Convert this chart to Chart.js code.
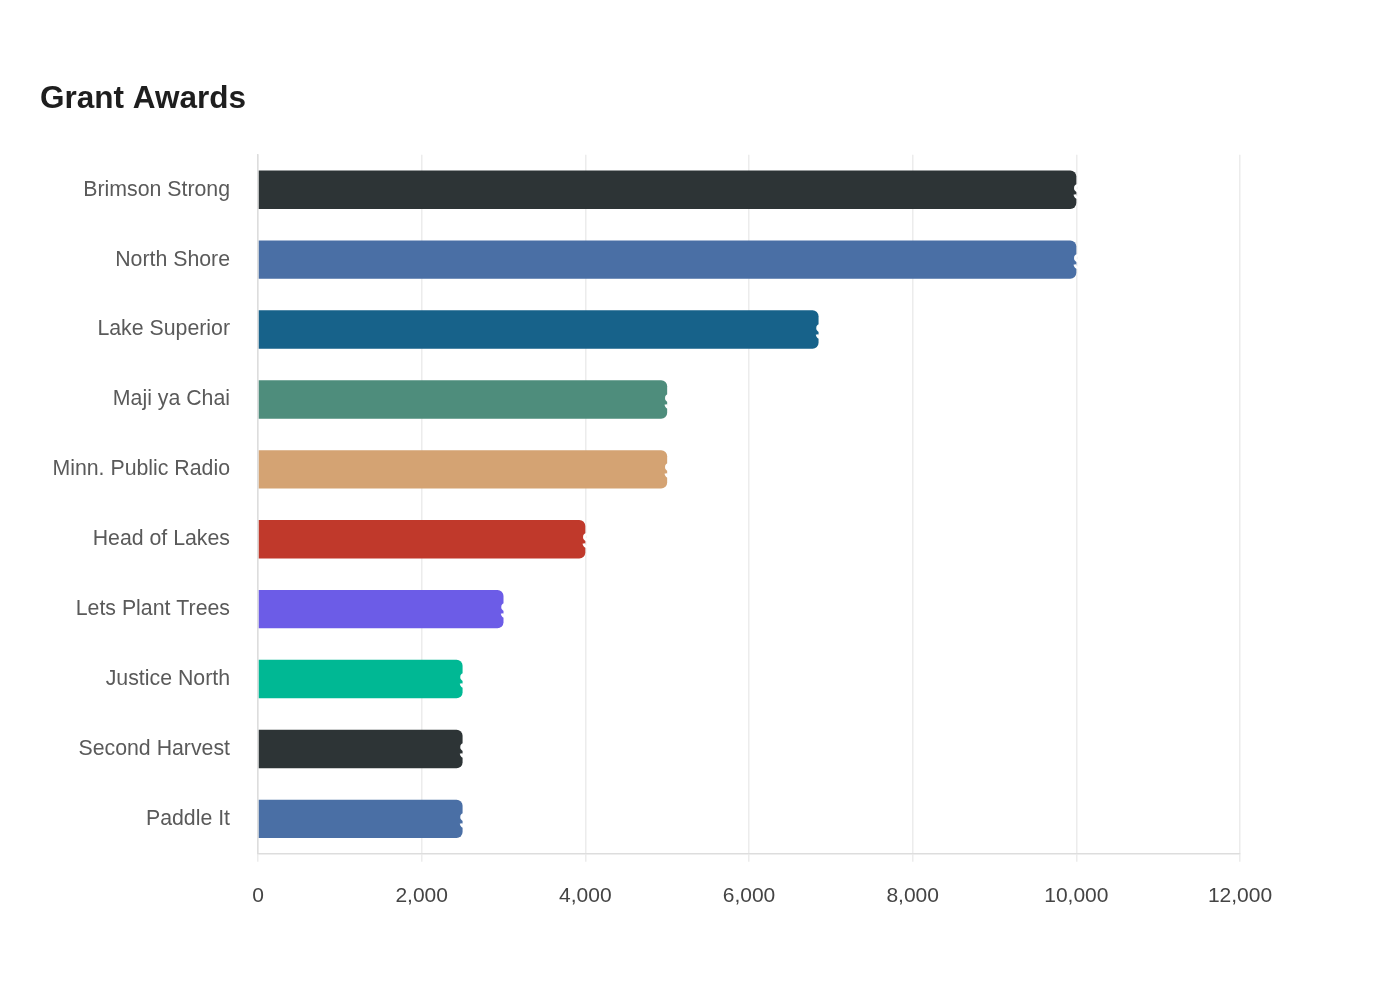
<!DOCTYPE html>
<html>
<head>
<meta charset="utf-8">
<script src="https://cdn.jsdelivr.net/npm/chart.js@4.4.1/dist/chart.umd.min.js"></script>
<style>
  html, body { margin: 0; padding: 0; background: #fff; }
  #wrap { width: 1400px; height: 1000px; position: relative; }
</style>
</head>
<body>
<div id="wrap"><canvas id="grantChart"></canvas></div>
<script>
const grantees = ['Brimson Strong', 'North Shore', 'Lake Superior', 'Maji ya Chai', 'Minn. Public Radio',
                  'Head of Lakes', 'Lets Plant Trees', 'Justice North', 'Second Harvest', 'Paddle It'];
const awards = [10000, 10000, 6850, 5000, 5000, 4000, 3000, 2500, 2500, 2500];
const barColors = ['#2d3436', '#4a6fa5', '#17628a', '#4e8d7c', '#d4a373',
                   '#c0392b', '#6c5ce7', '#00b894', '#2d3436', '#4a6fa5'];
const xTicks = [0, 2000, 4000, 6000, 8000, 10000, 12000];

// white amount labels sitting at the bar ends (mostly invisible on the white background)
const endLabels = {
    id: 'endLabels',
    afterDatasetsDraw(chart) {
        const ctx = chart.ctx;
        const meta = chart.getDatasetMeta(0);
        ctx.save();
        ctx.fillStyle = '#ffffff';
        ctx.font = 'bold 22px "Liberation Sans", Arial, sans-serif';
        ctx.textAlign = 'left';
        ctx.textBaseline = 'middle';
        meta.data.forEach((bar, i) => {
            ctx.fillText('$' + awards[i].toLocaleString('en-US'), bar.x - 3, bar.y + 3);
        });
        ctx.restore();
    }
};

const ctx = document.getElementById('grantChart').getContext('2d');

new Chart(ctx, {
    type: 'bar',
    data: {
        labels: grantees,
        datasets: [{
            label: 'Award',
            data: awards,
            backgroundColor: barColors,
            borderRadius: 6,
            borderSkipped: 'start',
            barPercentage: 0.55,
            categoryPercentage: 1
        }]
    },
    options: {
        indexAxis: 'y',
        responsive: true,
        maintainAspectRatio: false,
        animation: false,
        layout: {
            padding: { top: 80, left: 40, right: 160, bottom: 69 }
        },
        plugins: {
            legend: { display: false },
            tooltip: { enabled: false },
            title: {
                display: true,
                text: 'Grant Awards',
                align: 'start',
                color: '#1e1e1e',
                font: { family: '"Liberation Sans", Arial, sans-serif', size: 31.5, weight: 'bold' },
                padding: { top: 0, bottom: 37 }
            }
        },
        scales: {
            x: {
                min: 0,
                max: 12000,
                afterBuildTicks: (axis) => {
                    axis.ticks = xTicks.map(v => ({ value: v }));
                },
                ticks: {
                    color: '#444',
                    padding: 22,
                    font: { family: '"Liberation Sans", Arial, sans-serif', size: 21 },
                    callback: (v) => Number(v).toLocaleString('en-US')
                },
                grid: { color: '#ececec', lineWidth: 1.5, tickLength: 8 },
                border: { color: '#dddddd', width: 1.5 }
            },
            y: {
                afterFit: (scale) => { scale.width = 218; },
                ticks: {
                    color: '#5a5a5a',
                    padding: 20,
                    font: { family: '"Liberation Sans", Arial, sans-serif', size: 21.3 }
                },
                grid: { display: false },
                border: { color: '#dddddd', width: 1.5 }
            }
        }
    },
    plugins: [endLabels]
});
</script>
</body>
</html>
